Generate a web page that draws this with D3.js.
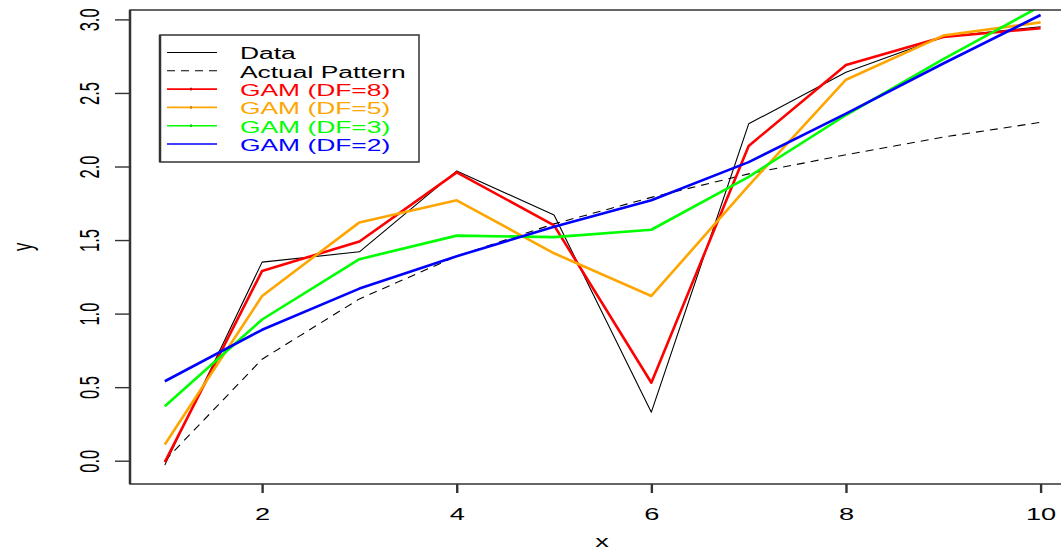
<!DOCTYPE html>
<html>
<head>
<meta charset="utf-8">
<script src="https://cdn.jsdelivr.net/npm/d3@7"></script>
<style>
  body { margin: 0; background: #fff; }
  svg { display: block; font-family: "Liberation Sans", Arial, sans-serif; }
  .tick line { stroke: #333; }
</style>
</head>
<body>
<svg id="chart"></svg>
<script>
// data
var xs = [1, 2, 3, 4, 5, 6, 7, 8, 9, 10];
var dataY   = [-0.03, 1.35, 1.42, 1.97, 1.67, 0.33, 2.29, 2.64, 2.88, 2.95];
var actualY = [0.00, 0.69, 1.10, 1.39, 1.61, 1.79, 1.95, 2.08, 2.20, 2.30];
var gam8 = [-0.01, 1.29, 1.49, 1.96, 1.60, 0.53, 2.14, 2.69, 2.88, 2.94];
var gam5 = [0.11, 1.12, 1.62, 1.77, 1.41, 1.12, 1.87, 2.59, 2.89, 2.98];
var gam3 = [0.37, 0.96, 1.37, 1.53, 1.52, 1.57, 1.93, 2.35, 2.73, 3.09];
var gam2 = [0.54, 0.89, 1.17, 1.39, 1.59, 1.77, 2.03, 2.36, 2.70, 3.03];
var xTicks = [2, 4, 6, 8, 10];
var yTicks = [0.0, 0.5, 1.0, 1.5, 2.0, 2.5, 3.0];
var legendLabels = ["Data", "Actual Pattern", "GAM (DF=8)", "GAM (DF=5)", "GAM (DF=3)", "GAM (DF=2)"];
var legendColors = ["#000", "#000", "#ff0000", "#ffa500", "#00ff00", "#0000ff"];

var W = 1061, H = 558;
// plot region (R style, right edge falls outside the picture)
var plot = { left: 130, right: 1076, top: 10, bottom: 484 };
var SX = 1.65; // the picture is stretched sideways, so is its text

var svg = d3.select("#chart").attr("width", W).attr("height", H);

var xScale = d3.scaleLinear().domain([1, 10]).range([164.8, 1040.6]);
var yScale = d3.scaleLinear().domain([0, 3]).range([460.7, 19.4]);

svg.append("clipPath").attr("id", "clip")
  .append("rect")
  .attr("x", plot.left).attr("y", plot.top)
  .attr("width", plot.right - plot.left).attr("height", plot.bottom - plot.top);

var line = d3.line()
  .x(function(d, i) { return xScale(xs[i]); })
  .y(function(d) { return yScale(d); });

var series = [
  { vals: dataY,   color: "#000",    width: 1.1, dash: null },
  { vals: actualY, color: "#000",    width: 1.1, dash: "8,6" },
  { vals: gam8,    color: "#ff0000", width: 2.6, dash: null },
  { vals: gam5,    color: "#ffa500", width: 2.6, dash: null },
  { vals: gam3,    color: "#00ff00", width: 2.6, dash: null },
  { vals: gam2,    color: "#0000ff", width: 2.6, dash: null }
];

svg.append("g").attr("clip-path", "url(#clip)")
  .selectAll("path")
  .data(series)
  .enter()
  .append("path")
  .attr("d", function(d) { return line(d.vals); })
  .attr("fill", "none")
  .attr("stroke", function(d) { return d.color; })
  .attr("stroke-width", function(d) { return d.width; })
  .attr("stroke-dasharray", function(d) { return d.dash; })
  .attr("stroke-linejoin", "round");

// axes
var xAxis = svg.append("g")
  .attr("transform", "translate(0," + plot.bottom + ")")
  .call(d3.axisBottom(xScale).tickValues(xTicks).tickSize(9).tickPadding(0).tickFormat(d3.format("d")));
xAxis.select(".domain").remove();
xAxis.selectAll(".tick line").attr("stroke-width", 2.4);
xAxis.selectAll(".tick text")
  .attr("y", 0).attr("dy", null)
  .attr("font-size", 16.5)
  .attr("fill", "#000")
  .attr("transform", "translate(0,35.5) scale(" + SX + ",1)");

var yAxis = svg.append("g")
  .attr("transform", "translate(" + plot.left + ",0)")
  .call(d3.axisLeft(yScale).tickValues(yTicks).tickSize(15).tickFormat(d3.format(".1f")));
yAxis.select(".domain").remove();
yAxis.selectAll(".tick line").attr("stroke-width", 1.4);
yAxis.selectAll(".tick text")
  .attr("x", 0).attr("dy", null)
  .attr("font-size", 16.5)
  .attr("fill", "#000")
  .attr("text-anchor", "middle")
  .attr("transform", "translate(-41,0) scale(" + SX + ",1) rotate(-90) translate(0,5.8)");

// frame
svg.append("rect")
  .attr("x", plot.left).attr("y", plot.top)
  .attr("width", plot.right - plot.left).attr("height", plot.bottom - plot.top)
  .attr("fill", "none").attr("stroke", "#333").attr("stroke-width", 1.5);
svg.append("line")
  .attr("x1", plot.left).attr("x2", plot.left)
  .attr("y1", plot.top).attr("y2", plot.bottom)
  .attr("stroke", "#333").attr("stroke-width", 2.5);

// axis titles
svg.append("text")
  .attr("transform", "translate(602,547) scale(" + SX + ",1)")
  .attr("text-anchor", "middle")
  .attr("font-size", 16.5)
  .text("x");
svg.append("text")
  .attr("transform", "translate(22,247) scale(" + SX + ",1) rotate(-90) translate(0,5.8)")
  .attr("text-anchor", "middle")
  .attr("font-size", 16.5)
  .text("y");

// legend
var legend = svg.append("g");
legend.append("rect")
  .attr("x", 160).attr("y", 35).attr("width", 259).attr("height", 127)
  .attr("fill", "#fff").attr("stroke", "#333").attr("stroke-width", 1.5);
legend.append("line")
  .attr("x1", 160).attr("x2", 160).attr("y1", 35).attr("y2", 162)
  .attr("stroke", "#333").attr("stroke-width", 2.5);

var rows = legend.selectAll(".row")
  .data(legendLabels)
  .enter()
  .append("g")
  .attr("class", "row")
  .attr("transform", function(d, i) { return "translate(0," + (52.5 + i * 18.3) + ")"; });

rows.append("line")
  .attr("x1", 167).attr("x2", 217)
  .attr("stroke", function(d, i) { return legendColors[i]; })
  .attr("stroke-width", function(d, i) { return i < 2 ? 1.1 : 1.6; })
  .attr("stroke-dasharray", function(d, i) { return i === 1 ? "8,6" : null; });

rows.filter(function(d, i) { return i >= 2 && i <= 4; })
  .append("rect")
  .attr("x", 190).attr("y", -1.3).attr("width", 2).attr("height", 2.6)
  .attr("fill", function(d, i) { return d3.color(legendColors[i + 2]).darker(0.6); });

rows.append("text")
  .attr("transform", "translate(240,6.8) scale(" + SX + ",1)")
  .attr("font-size", 16)
  .attr("fill", function(d, i) { return legendColors[i]; })
  .text(function(d) { return d; });
</script>
</body>
</html>
